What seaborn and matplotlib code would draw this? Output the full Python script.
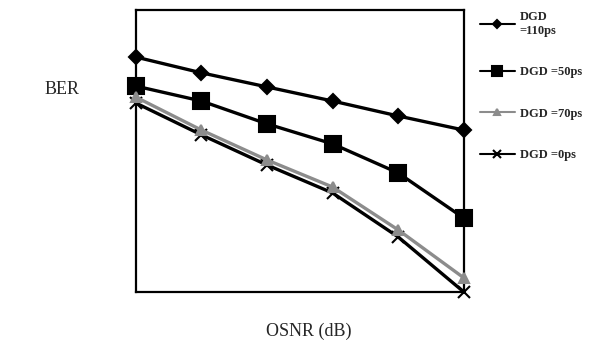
import pandas as pd
import matplotlib.pyplot as plt
import seaborn as sns

# OSNR steps (no tick labels on the original), BER in relative units
osnr = [0, 1, 2, 3, 4, 5]
ber_110 = [83.3, 77.7, 72.7, 67.7, 62.4, 57.4]
ber_50 = [73.0, 67.7, 59.6, 52.5, 42.2, 26.2]
ber_70 = [69.1, 57.4, 46.8, 37.2, 22.0, 5.0]
ber_0 = [67.0, 55.7, 45.0, 35.1, 19.5, 0.0]

labels = ['DGD\n=110ps', 'DGD =50ps', 'DGD =70ps', 'DGD =0ps']

sns.set_style('white')
plt.rcParams['font.family'] = ['Liberation Serif', 'DejaVu Serif']

fig = plt.figure(figsize=(5.93, 3.43), dpi=100)
ax = fig.add_axes([0.229, 0.149, 0.553, 0.822])

# draw the 0ps line before the grey one so the grey sits on top
styles = {
    labels[0]: (ber_110, 'black', 'D', 7, 3),
    labels[1]: (ber_50, 'black', 's', 11, 2),
    labels[3]: (ber_0, 'black', 'x', 9, 4),
    labels[2]: (ber_70, '#8c8c8c', '^', 7, 5),
}
for lab, (vals, col, mk, ms, z) in styles.items():
    df = pd.DataFrame({'OSNR': osnr, 'BER': vals})
    sns.lineplot(x='OSNR', y='BER', data=df, ax=ax, color=col, marker=mk,
                 markersize=ms, markeredgecolor=col, markeredgewidth=1.5,
                 linewidth=2.4, label=lab, zorder=z, clip_on=False)

ax.set_xlim(0, 5)
ax.set_ylim(0, 100)
ax.set_xticks([])
ax.set_yticks([])
ax.set_xlabel('')
ax.set_ylabel('')
for s in ax.spines.values():
    s.set_visible(True)
    s.set_color('black')
    s.set_linewidth(1.6)

fig.text(0.105, 0.74, 'BER', fontsize=13, ha='center', va='center')
fig.text(0.52, 0.035, 'OSNR (dB)', fontsize=13, ha='center', va='center')

handles, labs = ax.get_legend_handles_labels()
order = [labs.index(l) for l in labels]
ax.get_legend().remove()
leg = fig.legend([handles[i] for i in order], [labs[i] for i in order],
                 loc='upper left', bbox_to_anchor=(0.79, 1.0), frameon=False,
                 markerscale=0.6, handlelength=2.8, handletextpad=0.4,
                 labelspacing=2.35, prop={'weight': 'bold', 'size': 9})
for ln in leg.get_lines():
    ln.set_linewidth(1.5)

fig.savefig('out.png', dpi=100)
